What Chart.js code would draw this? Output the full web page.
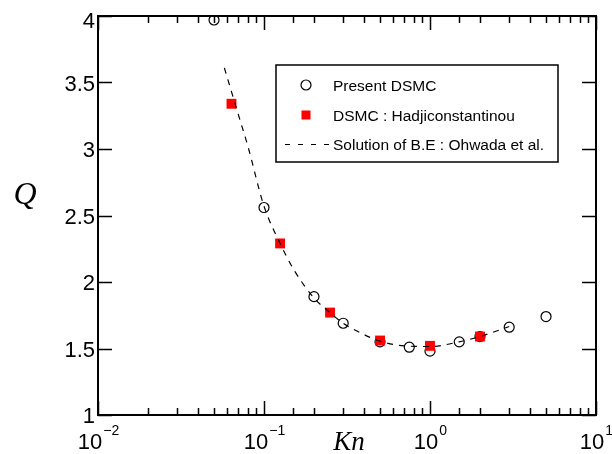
<!DOCTYPE html>
<html>
<head>
<meta charset="utf-8">
<script src="https://cdn.jsdelivr.net/npm/chart.js@4.4.1/dist/chart.umd.min.js"></script>
<style>
  html, body { margin: 0; padding: 0; background: #fff; }
  #wrap { width: 612px; height: 454px; }
</style>
</head>
<body>
<div id="wrap"><canvas id="c" width="612" height="454"></canvas></div>
<script>
// Present DSMC results (open circles)
const knPresent = [0.05, 0.1, 0.2, 0.3, 0.5, 0.75, 1.0, 1.5, 2.0, 3.0, 5.0];
const qPresent  = [3.97, 2.56, 1.89, 1.69, 1.55, 1.51, 1.48, 1.55, 1.59, 1.66, 1.74];

// DSMC : Hadjiconstantinou (red squares)
const knHadji = [0.0637, 0.125, 0.25, 0.5, 1.0, 2.0];
const qHadji  = [3.34, 2.29, 1.77, 1.56, 1.52, 1.59];

// Solution of B.E : Ohwada et al. (dashed curve)
const knOhwada = [0.0577, 0.07, 0.08, 0.1, 0.125, 0.15, 0.2, 0.25, 0.3, 0.4, 0.5, 0.7, 1.0, 1.5, 2.0, 3.0];
const qOhwada  = [3.61, 3.26, 3.02, 2.57, 2.29, 2.10, 1.88, 1.77, 1.69, 1.605, 1.555, 1.52, 1.515, 1.55, 1.59, 1.665];

// Axis ranges and labels
const xRange = [0.01, 10];
const yRange = [1, 4];
const yStep = 0.5;
const xTitle = 'Kn';
const yTitle = 'Q';
const legendLabels = ['Present DSMC', 'DSMC : Hadjiconstantinou', 'Solution of B.E : Ohwada et al.'];

const pts = (xs, ys) => xs.map((x, i) => ({ x: x, y: ys[i] }));

const SANS = '"Liberation Sans", Arial, sans-serif';
const SERIF = '"Liberation Serif", "Times New Roman", serif';

// Frame, inward ticks, tick labels, axis titles and the boxed legend
const framePlugin = {
  id: 'frame',
  afterDatasetsDraw(chart) {
    const ctx = chart.ctx;
    const a = chart.chartArea;
    const xs = chart.scales.x, ys = chart.scales.y;
    ctx.save();
    ctx.strokeStyle = '#000';
    ctx.fillStyle = '#000';

    // ticks on all four sides, pointing inward
    ctx.lineWidth = 1.5;
    ctx.beginPath();
    xs.ticks.forEach(t => {
      const v = t.value;
      const lg = Math.log10(v);
      const major = Math.abs(lg - Math.round(lg)) < 1e-9;
      const len = major ? 14 : 7;
      const px = Math.round(xs.getPixelForValue(v)) + 0.5;
      ctx.moveTo(px, a.bottom); ctx.lineTo(px, a.bottom - len);
      ctx.moveTo(px, a.top); ctx.lineTo(px, a.top + len);
    });
    ys.ticks.forEach(t => {
      const py = Math.round(ys.getPixelForValue(t.value)) + 0.5;
      ctx.moveTo(a.left, py); ctx.lineTo(a.left + 14, py);
      ctx.moveTo(a.right, py); ctx.lineTo(a.right - 14, py);
    });
    ctx.stroke();

    // frame
    ctx.lineWidth = 2;
    ctx.strokeRect(a.left, a.top, a.right - a.left, a.bottom - a.top);

    // y tick labels
    ctx.font = '22px ' + SANS;
    ctx.textAlign = 'right';
    ctx.textBaseline = 'alphabetic';
    ys.ticks.forEach(t => {
      const py = ys.getPixelForValue(t.value);
      const shift = t.value === yRange[1] ? 4 : 0;
      ctx.fillText(String(t.value), 95, py + 8 + shift);
    });

    // x tick labels: powers of ten with superscript exponent
    xs.ticks.forEach(t => {
      const v = t.value;
      const lg = Math.log10(v);
      if (Math.abs(lg - Math.round(lg)) > 1e-9) return;
      const e = Math.round(lg);
      const base = '10';
      const exp = e < 0 ? '\u2212' + Math.abs(e) : String(e);
      ctx.font = '22px ' + SANS;
      const w1 = ctx.measureText(base).width;
      ctx.font = '14px ' + SANS;
      const w2 = ctx.measureText(exp).width;
      const x0 = xs.getPixelForValue(v) - (w1 + w2) / 2;
      ctx.textAlign = 'left';
      ctx.font = '22px ' + SANS;
      ctx.fillText(base, x0, 449);
      ctx.font = '14px ' + SANS;
      ctx.fillText(exp, x0 + w1 + 1, 435);
    });

    // axis titles
    ctx.textAlign = 'center';
    ctx.font = 'italic 32px ' + SERIF;
    ctx.fillText(yTitle, 25, 204);
    ctx.font = 'italic 27px ' + SERIF;
    ctx.fillText(xTitle, 349, 450);

    // legend box
    const lx = 276, ly = 65, lw = 282, lh = 97;
    ctx.fillStyle = '#fff';
    ctx.fillRect(lx, ly, lw, lh);
    ctx.lineWidth = 1.5;
    ctx.strokeStyle = '#000';
    ctx.strokeRect(lx, ly, lw, lh);
    const rows = [85, 115, 144];
    // circle marker
    ctx.lineWidth = 1.2;
    ctx.beginPath();
    ctx.arc(306, rows[0], 5, 0, Math.PI * 2);
    ctx.stroke();
    // square marker
    ctx.fillStyle = '#ff0000';
    ctx.fillRect(301.5, rows[1] - 4.5, 9, 9);
    // dashed sample
    ctx.setLineDash([5, 8]);
    ctx.beginPath();
    ctx.moveTo(285, rows[2] + 0.5);
    ctx.lineTo(330, rows[2] + 0.5);
    ctx.stroke();
    ctx.setLineDash([]);
    ctx.fillStyle = '#000';
    ctx.font = '15.5px ' + SANS;
    ctx.textAlign = 'left';
    legendLabels.forEach((s, i) => ctx.fillText(s, 333, rows[i] + 5.5));
    ctx.restore();
  }
};

new Chart(document.getElementById('c'), {
  type: 'scatter',
  data: {
    datasets: [
      {
        label: legendLabels[2],
        data: pts(knOhwada, qOhwada),
        showLine: true,
        borderColor: '#000',
        borderWidth: 1.2,
        borderDash: [6, 6],
        pointRadius: 0,
        cubicInterpolationMode: 'monotone',
        fill: false,
        order: 0
      },
      {
        label: legendLabels[1],
        data: pts(knHadji, qHadji),
        pointStyle: 'rect',
        pointRadius: 7,
        backgroundColor: '#ff0000',
        borderColor: '#ff0000',
        borderWidth: 0,
        order: 1
      },
      {
        label: legendLabels[0],
        data: pts(knPresent, qPresent),
        pointStyle: 'circle',
        pointRadius: 5,
        backgroundColor: 'rgba(0,0,0,0)',
        borderColor: '#000',
        borderWidth: 1.2,
        order: 2
      }
    ]
  },
  options: {
    responsive: false,
    animation: false,
    devicePixelRatio: 1,
    layout: { padding: { left: 0, top: 16, right: 16, bottom: 0 } },
    plugins: { legend: { display: false }, tooltip: { enabled: false } },
    scales: {
      x: {
        type: 'logarithmic',
        min: xRange[0],
        max: xRange[1],
        grid: { display: false },
        border: { display: false },
        ticks: { display: false },
        afterFit(s) { s.height = 39; }
      },
      y: {
        type: 'linear',
        min: yRange[0],
        max: yRange[1],
        grid: { display: false },
        border: { display: false },
        ticks: { display: false, stepSize: yStep },
        afterFit(s) { s.width = 98; }
      }
    }
  },
  plugins: [framePlugin]
});
</script>
</body>
</html>
